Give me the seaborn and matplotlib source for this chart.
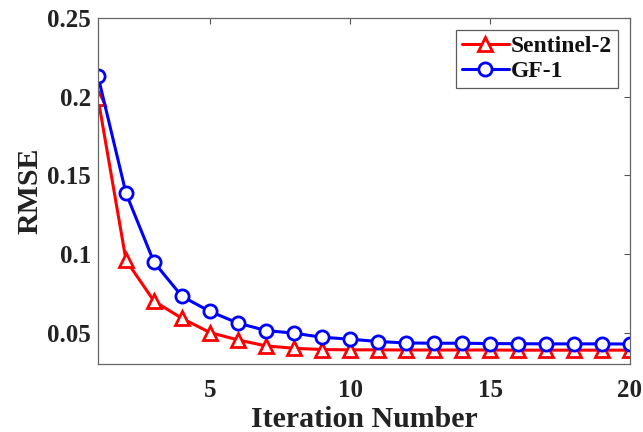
import numpy as np
import pandas as pd
import seaborn as sns
from matplotlib import pyplot as plt

# dane
iterations = list(range(1, 21))
sentinel2 = [0.199, 0.096, 0.070, 0.059, 0.050, 0.0453, 0.0415, 0.0400, 0.0392, 0.0390,
             0.0390, 0.0389, 0.0389, 0.0389, 0.0389, 0.0388, 0.0388, 0.0388, 0.0388, 0.0388]
gf1 = [0.213, 0.1386, 0.0947, 0.073, 0.0634, 0.056, 0.0513, 0.0496, 0.047, 0.0458,
       0.0443, 0.0434, 0.0432, 0.0432, 0.0430, 0.0429, 0.0428, 0.0428, 0.0428, 0.0427]
xticks = [5, 10, 15, 20]
yticks = [0.05, 0.1, 0.15, 0.2, 0.25]
ytick_labels = ["0.05", "0.1", "0.15", "0.2", "0.25"]

sns.set_style("white")
plt.rcParams['font.family'] = ['Liberation Serif', 'DejaVu Serif']
plt.rcParams['font.weight'] = 'bold'

fig = plt.figure(figsize=(6.43, 4.32), dpi=100)
ax = fig.add_axes([98 / 643, 1 - 364 / 432, 532 / 643, 346 / 432])

sns.lineplot(x=iterations, y=sentinel2, ax=ax, color='red', marker='^', markersize=10,
             markerfacecolor='white', markeredgecolor='red', markeredgewidth=2,
             linewidth=2.2, label='Sentinel-2')
sns.lineplot(x=iterations, y=gf1, ax=ax, color='blue', marker='o', markersize=9.5,
             markerfacecolor='white', markeredgecolor='blue', markeredgewidth=2,
             linewidth=2.2, label='GF-1')

ax.set_xlim(1, 20)
ax.set_ylim(0.03, 0.25)
ax.set_xticks(xticks)
ax.set_yticks(yticks)
ax.set_yticklabels(ytick_labels)
ax.tick_params(direction='in', length=4, width=0.8, color='#555555', labelsize=18,
               labelcolor='#222222', top=True, right=True, pad=5)
ax.tick_params(axis='x', pad=11)
for lab in ax.get_xticklabels() + ax.get_yticklabels():
    lab.set_fontweight('bold')
for s in ax.spines.values():
    s.set_color('#666666')
    s.set_linewidth(0.9)

ax.set_xlabel('Iteration Number', fontsize=21.5, fontweight='bold', labelpad=3,
              color='#222222')
ax.set_ylabel('RMSE', fontsize=21.5, fontweight='bold', labelpad=3, color='#222222')

leg = ax.legend(loc='upper right', fontsize=17, frameon=True, fancybox=False,
                handlelength=2.0, handletextpad=0.1, borderpad=0.25, labelspacing=0.15,
                borderaxespad=0.5)
leg.get_frame().set_edgecolor('#333333')
leg.get_frame().set_linewidth(0.9)
for t in leg.get_texts():
    t.set_fontweight('bold')
    t.set_color('#111111')

fig.savefig('out.png', dpi=100)
